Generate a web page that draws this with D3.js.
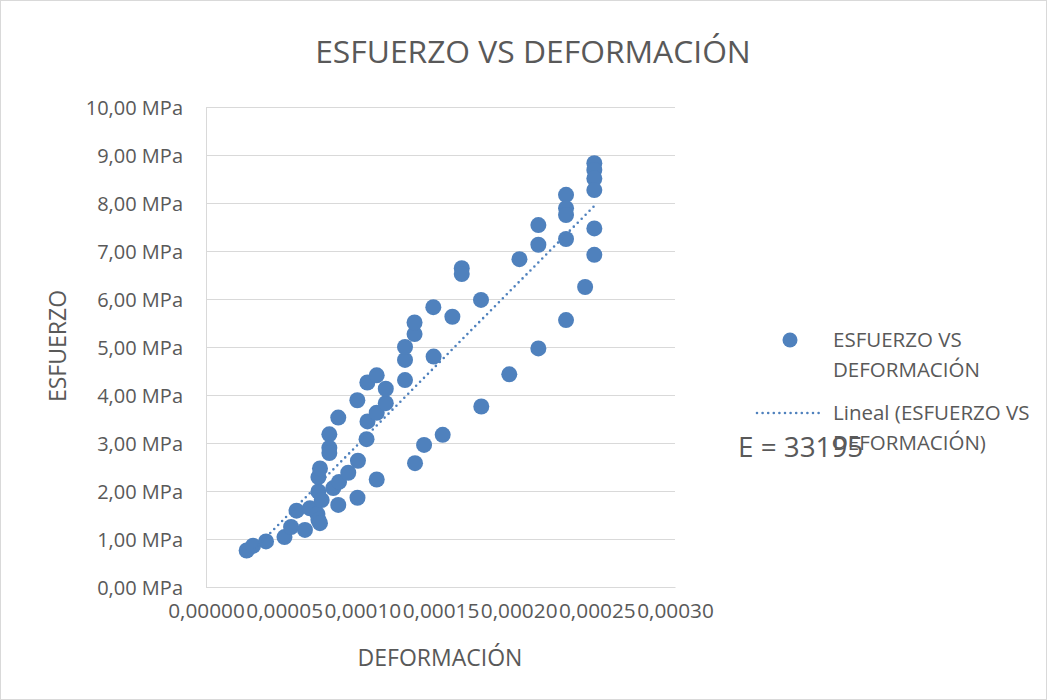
<!DOCTYPE html>
<html><head><meta charset="utf-8">
<script src="https://cdn.jsdelivr.net/npm/d3@7"></script>
<style>
body{margin:0;background:#fff}
text{font-family:"Open Sans",sans-serif;fill:#595959}
</style>
</head><body>
<svg id="c" width="1047" height="700"></svg>
<script>
// ---- data ----
const deformacion = [2.60e-5,3.01e-5,3.84e-5,5.02e-5,5.44e-5,6.33e-5,5.79e-5,6.65e-5,7.13e-5,7.19e-5,
  7.29e-5,7.19e-5,7.40e-5,7.19e-5,7.29e-5,7.89e-5,7.89e-5,7.89e-5,8.14e-5,8.51e-5,
  8.46e-5,8.46e-5,9.10e-5,9.72e-5,9.69e-5,10.92e-5,10.27e-5,10.33e-5,10.92e-5,11.50e-5,
  9.68e-5,10.32e-5,10.92e-5,11.50e-5,12.73e-5,12.73e-5,12.73e-5,13.34e-5,13.34e-5,14.56e-5,
  14.54e-5,15.76e-5,16.36e-5,16.36e-5,17.59e-5,17.61e-5,19.40e-5,20.05e-5,21.26e-5,21.26e-5,
  21.26e-5,23.03e-5,23.03e-5,23.03e-5,23.03e-5,23.03e-5,24.25e-5,24.84e-5,24.84e-5,24.84e-5,
  24.84e-5,24.84e-5,24.84e-5,13.37e-5,13.95e-5,15.14e-5];
const esfuerzo = [0.76,0.86,0.95,1.04,1.25,1.19,1.59,1.64,1.52,1.40,
  1.33,1.99,1.81,2.29,2.47,3.18,2.90,2.79,2.06,2.19,
  1.71,3.53,2.38,2.63,1.86,2.24,3.08,3.45,3.63,3.83,
  3.89,4.26,4.41,4.13,4.31,4.73,5.00,5.27,5.51,4.80,
  5.83,5.63,6.64,6.52,5.98,3.76,4.43,6.83,7.54,7.13,
  4.97,8.17,7.89,7.75,7.25,5.56,6.25,8.83,8.69,8.51,
  8.27,7.47,6.92,2.58,2.96,3.17];
const xTicks = [0,0.00005,0.0001,0.00015,0.0002,0.00025,0.0003];
const yTicks = [0,1,2,3,4,5,6,7,8,9,10];
const title = "ESFUERZO VS DEFORMACIÓN";
const xTitle = "DEFORMACIÓN";
const yTitle = "ESFUERZO";
const seriesName = "ESFUERZO VS DEFORMACIÓN";
const trendName = ["Lineal (ESFUERZO VS", "DEFORMACIÓN)"];
const modulusLabel = "E = 33195";

// ---- layout ----
const color = "#4F81BD", grid = "#d9d9d9";
const L = 206, R = 675, T = 107, B = 587;
const svg = d3.select("#c");
svg.append("rect").attr("x",0.5).attr("y",0.5).attr("width",1046).attr("height",699)
  .attr("fill","#fff").attr("stroke","#d9d9d9");

const x = d3.scaleLinear().domain([0,0.0003]).range([L,R]);
const y = d3.scaleLinear().domain([0,10]).range([B,T]);
const comma = s => s.replace(".", ",");

const yAxis = svg.append("g").attr("transform",`translate(${L},0)`)
  .call(d3.axisLeft(y).tickValues(yTicks).tickSize(-(R-L)).tickSizeOuter(0).tickPadding(23)
    .tickFormat(d => comma(d3.format(".2f")(d)) + " MPa"));
yAxis.selectAll("line").attr("stroke",grid);
yAxis.select(".domain").attr("stroke",grid);
yAxis.selectAll("text").style("font-family","'Open Sans',sans-serif").style("font-size","20px")
  .attr("fill","#595959").attr("dy","0.36em");

const xAxis = svg.append("g").attr("transform",`translate(0,${B})`)
  .call(d3.axisBottom(x).tickValues(xTicks).tickSize(0).tickPadding(16)
    .tickFormat(d => comma(d3.format(".5f")(d))));
xAxis.select(".domain").attr("stroke",grid);
xAxis.selectAll("text").style("font-family","'Open Sans',sans-serif").style("font-size","20.8px")
  .attr("fill","#595959");

// points
const pts = deformacion.map((d,i)=>({x:d, y:esfuerzo[i]}));
svg.append("g").selectAll("circle").data(pts).join("circle")
  .attr("cx",d=>x(d.x)).attr("cy",d=>y(d.y)).attr("r",8).attr("fill",color);

// linear trend (least squares)
const mx = d3.mean(pts,d=>d.x), my = d3.mean(pts,d=>d.y);
const slope = d3.sum(pts,d=>(d.x-mx)*(d.y-my)) / d3.sum(pts,d=>(d.x-mx)**2);
const icpt = my - slope*mx;
const [x0,x1] = d3.extent(pts,d=>d.x);
svg.append("path").datum([x0,x1])
  .attr("d", d3.line().x(d=>x(d)).y(d=>y(icpt+slope*d)))
  .attr("fill","none").attr("stroke",color).attr("stroke-width",2.6)
  .attr("stroke-linecap","round").attr("stroke-dasharray","0 5.6");

// titles
svg.append("text").attr("x",533).attr("y",63).attr("text-anchor","middle")
  .style("font-size","31.8px").text(title);
svg.append("text").attr("x",440).attr("y",666).attr("text-anchor","middle")
  .style("font-size","23px").text(xTitle);
svg.append("text").attr("transform","translate(66,346) rotate(-90)").attr("text-anchor","middle")
  .style("font-size","23px").text(yTitle);

// legend
const lg = svg.append("g");
lg.append("circle").attr("cx",790).attr("cy",340).attr("r",7.5).attr("fill",color);
const nm = seriesName.split(" VS ");
lg.append("text").attr("x",833).attr("y",347).style("font-size","20.5px").text(nm[0]+" VS");
lg.append("text").attr("x",833).attr("y",377).style("font-size","20.5px").text(nm[1]);
lg.append("line").attr("x1",757).attr("x2",821).attr("y1",413).attr("y2",413)
  .attr("stroke",color).attr("stroke-width",2.6).attr("stroke-linecap","round").attr("stroke-dasharray","0 5.6");
lg.append("text").attr("x",833).attr("y",420).style("font-size","20.5px").text(trendName[0]);
lg.append("text").attr("x",833).attr("y",450).style("font-size","20.5px").text(trendName[1]);
svg.append("text").attr("x",738).attr("y",457).style("font-size","27.8px").text(modulusLabel);
</script>
</body></html>
